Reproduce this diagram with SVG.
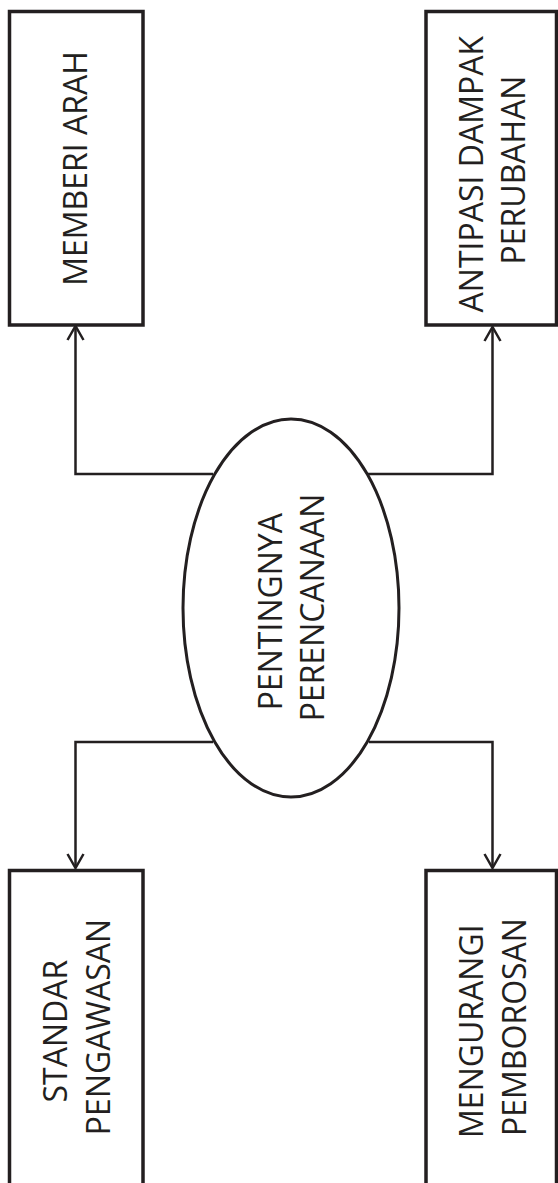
<svg xmlns="http://www.w3.org/2000/svg" width="558" height="1183" viewBox="0 0 558 1183">
  <style>
    .box { fill: #ffffff; stroke: #231f20; stroke-width: 3.5; }
    .hub { fill: #ffffff; stroke: #231f20; stroke-width: 3; }
    .link { fill: none; stroke: #231f20; stroke-width: 2.5; }
    .label { font-family: "Open Sans", "Noto Sans", sans-serif; font-size: 32px; fill: #231f20; text-anchor: middle; }
  </style>
  <defs>
    <marker id="open-arrow" markerUnits="userSpaceOnUse" markerWidth="20" markerHeight="20" viewBox="-16 -10 20 20" refX="0" refY="0" orient="auto" overflow="visible">
      <path d="M-14,-8 L0,0 L-14,8" fill="none" stroke="#231f20" stroke-width="2.5"/>
    </marker>
  </defs>
  <rect width="558" height="1183" fill="#ffffff"/>

  <!-- connectors from the central ellipse to the four boxes -->
  <g id="connectors">
    <path class="link" d="M213,474 H75.5 V326" marker-end="url(#open-arrow)"/>
    <path class="link" d="M368,474 H492.5 V327" marker-end="url(#open-arrow)"/>
    <path class="link" d="M213,742 H75.5 V868" marker-end="url(#open-arrow)"/>
    <path class="link" d="M369,742 H492.5 V868" marker-end="url(#open-arrow)"/>
  </g>

  <g id="node-memberi-arah">
    <rect class="box" x="9.5" y="11.5" width="133.5" height="313.5"/>
    <text class="label" transform="translate(76.5,168.5) rotate(-90)" y="10.5">MEMBERI ARAH</text>
  </g>

  <g id="node-antipasi">
    <rect class="box" x="426" y="11.5" width="130.5" height="313.5"/>
    <text class="label" transform="translate(491,170) rotate(-90)">
      <tspan x="0" y="-8.5">ANTIPASI DAMPAK</tspan>
      <tspan x="0" y="34">PERUBAHAN</tspan>
    </text>
  </g>

  <g id="node-pentingnya">
    <ellipse class="hub" cx="291" cy="608" rx="108" ry="189"/>
    <text class="label" transform="translate(290.5,607.5) rotate(-90)">
      <tspan x="0" y="-8.5">PENTINGNYA</tspan>
      <tspan x="0" y="33">PERENCANAAN</tspan>
    </text>
  </g>

  <g id="node-standar">
    <rect class="box" x="9.5" y="870.5" width="133.5" height="318"/>
    <text class="label" transform="translate(76.5,1027) rotate(-90)">
      <tspan x="0" y="-9.5">STANDAR</tspan>
      <tspan x="0" y="33.5">PENGAWASAN</tspan>
    </text>
  </g>

  <g id="node-mengurangi">
    <rect class="box" x="426" y="870.5" width="130.5" height="318"/>
    <text class="label" transform="translate(491,1027) rotate(-90)">
      <tspan x="0" y="-8">MENGURANGI</tspan>
      <tspan x="0" y="35">PEMBOROSAN</tspan>
    </text>
  </g>
</svg>
